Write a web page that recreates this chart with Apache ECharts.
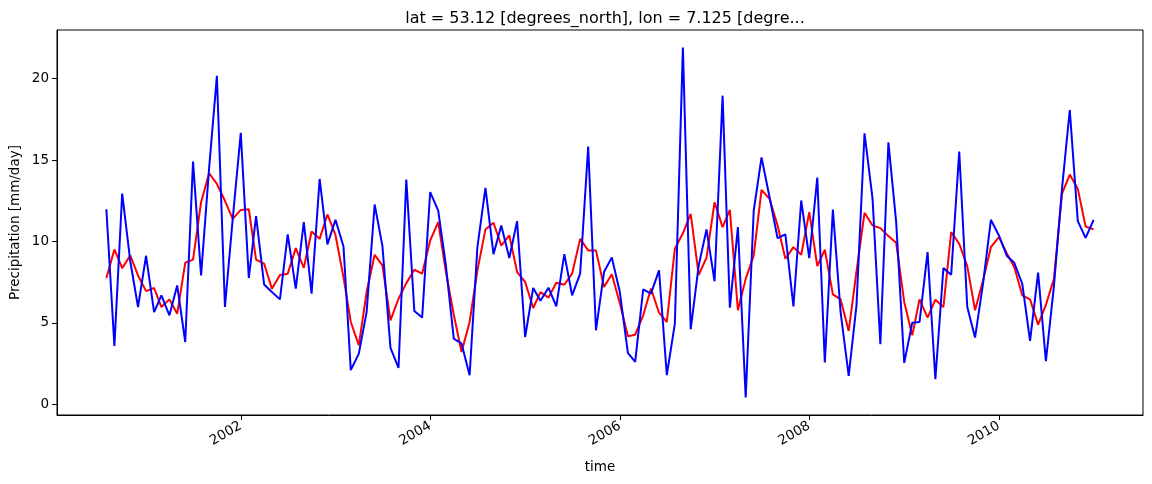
<!DOCTYPE html>
<html>
<head>
<meta charset="utf-8">
<script src="https://cdn.jsdelivr.net/npm/echarts@6/dist/echarts.min.js"></script>
<style>
html,body{margin:0;padding:0;background:#fff;}
#chart{width:1152px;height:484px;}
</style>
</head>
<body>
<div id="chart"></div>
<script>
// Monthly series start (first month) and count
const startYear = 2000, startMonth = 8; // August 2000
const precipitation = [
  11.98, 3.58, 12.94, 8.8, 5.97, 9.12, 5.66, 6.69, 5.46, 7.30,
  3.82, 14.91, 7.91, 14.5, 20.18, 5.97, 11.39, 16.67, 7.75, 11.55,
  7.36, 6.89, 6.44, 10.43, 7.10, 11.19, 6.79, 13.84, 9.82, 11.33,
  9.69, 2.09, 3.11, 5.66, 12.27, 9.71, 3.46, 2.23, 13.80, 5.73,
  5.32, 13.03, 11.90, 8.6, 4.03, 3.72, 1.78, 9.65, 13.29, 9.22,
  10.98, 8.98, 11.25, 4.13, 7.14, 6.36, 7.16, 6.01, 9.22, 6.69,
  8.02, 15.83, 4.54, 8.12, 9.02, 6.89, 3.15, 2.60, 7.06, 6.79,
  8.22, 1.78, 4.95, 21.92, 4.60, 8.53, 10.74, 7.55, 18.96, 5.93,
  10.88, 0.41, 11.90, 15.17, 12.72, 10.20, 10.43, 6.01, 12.52, 8.98,
  13.93, 2.56, 11.96, 5.62, 1.74, 6.07, 16.65, 12.62, 3.68, 16.09,
  11.19, 2.54, 5.01, 5.05, 9.35, 1.53, 8.36, 7.96, 15.52, 5.97,
  4.09, 7.44, 11.33, 10.37, 9.10, 8.69, 7.40, 3.89, 8.08, 2.64,
  7.26, 13.23, 18.08, 11.25, 10.22, 11.33
];
const rollingMean = [
  7.75, 9.51, 8.36, 9.14, 7.91, 6.95, 7.14, 5.97, 6.44, 5.56,
  8.69, 8.88, 12.41, 14.19, 13.54, 12.5, 11.39, 11.94, 11.98, 8.88,
  8.63, 7.10, 7.94, 8.02, 9.59, 8.38, 10.61, 10.16, 11.66, 10.4,
  7.8, 5.05, 3.62, 6.89, 9.18, 8.53, 5.15, 6.48, 7.44, 8.26,
  8.02, 10.06, 11.19, 8.19, 5.5, 3.21, 5.05, 8.22, 10.74, 11.15,
  9.75, 10.37, 8.12, 7.51, 5.91, 6.89, 6.55, 7.46, 7.34, 8.02,
  10.16, 9.45, 9.45, 7.20, 7.98, 6.2, 4.17, 4.27, 5.46, 7.1,
  5.62, 5.05, 9.55, 10.5, 11.70, 7.95, 9.0, 12.41, 10.88, 11.94,
  5.77, 7.7, 9.14, 13.17, 12.62, 10.98, 8.94, 9.65, 9.18, 11.80,
  8.49, 9.49, 6.75, 6.44, 4.50, 8.16, 11.76, 10.98, 10.82, 10.33,
  9.92, 6.28, 4.23, 6.44, 5.32, 6.42, 5.97, 10.57, 9.86, 8.48,
  5.77, 7.61, 9.65, 10.27, 9.25, 8.43, 6.69, 6.44, 4.89, 6.1,
  7.71, 12.92, 14.11, 13.23, 10.92, 10.74
];
const tickYears = [2002, 2004, 2006, 2008, 2010];
const yTicks = [0, 5, 10, 15, 20];
const titleText = 'lat = 53.12 [degrees_north], lon = 7.125 [degre...';

function monthDate(i) {
  const m0 = startMonth - 1 + i;
  return new Date(startYear + Math.floor(m0 / 12), m0 % 12, 1).getTime();
}
const times = precipitation.map((_, i) => monthDate(i));
const blueData = times.map((t, i) => [t, precipitation[i]]);
const redData = times.map((t, i) => [t, rollingMean[i]]);

const t0 = times[0], t1 = times[times.length - 1];
const span = t1 - t0;
const xMin = t0 - 0.05 * span, xMax = t1 + 0.05 * span;
const allV = precipitation.concat(rollingMean);
const vMin = Math.min(...allV), vMax = Math.max(...allV);
const vSpan = vMax - vMin;
const yMin = vMin - 0.05 * vSpan, yMax = vMax + 0.05 * vSpan;

const tickTimes = tickYears.map(y => new Date(y, 0, 1).getTime());
const FONT = 'DejaVu Sans';

const chart = echarts.init(document.getElementById('chart'));
chart.setOption({
  animation: false,
  backgroundColor: '#fff',
  textStyle: { fontFamily: FONT },
  title: {
    text: titleText,
    left: 600, top: 6, textAlign: 'center',
    textStyle: { fontFamily: FONT, fontSize: 16, fontWeight: 'normal', color: '#000' }
  },
  grid: {
    left: 57, right: 9, top: 30, bottom: 69,
    containLabel: false, outerBoundsMode: 'none',
    show: true, borderColor: '#000', borderWidth: 1, backgroundColor: 'transparent'
  },
  xAxis: {
    type: 'value',
    min: xMin, max: xMax,
    name: 'time', nameLocation: 'middle', nameGap: 45, nameMoveOverlap: false,
    nameTextStyle: { fontFamily: FONT, fontSize: 13.5, color: '#000' },
    axisLine: { show: true, onZero: false, lineStyle: { color: '#000', width: 1 } },
    axisTick: { show: true, length: 5, inside: false, customValues: tickTimes, lineStyle: { color: '#000' } },
    axisLabel: {
      customValues: tickTimes, rotate: 30, margin: 10,
      fontFamily: FONT, fontSize: 13.5, color: '#000',
      formatter: v => String(new Date(v).getFullYear())
    },
    splitLine: { show: false }
  },
  yAxis: {
    type: 'value',
    min: yMin, max: yMax,
    name: 'Precipitation [mm/day]', nameLocation: 'middle', nameGap: 35, nameMoveOverlap: false,
    nameTextStyle: { fontFamily: FONT, fontSize: 13.5, color: '#000' },
    axisLine: { show: true, onZero: false, lineStyle: { color: '#000', width: 1 } },
    axisTick: { show: true, length: 5, inside: false, customValues: yTicks, lineStyle: { color: '#000' } },
    axisLabel: { customValues: yTicks, margin: 8, fontFamily: FONT, fontSize: 13.5, color: '#000' },
    splitLine: { show: false }
  },
  series: [
    {
      name: 'rolling mean', type: 'line', data: redData, showSymbol: false,
      lineStyle: { color: '#ff0000', width: 2 }, itemStyle: { color: '#ff0000' }, z: 2
    },
    {
      name: 'precipitation', type: 'line', data: blueData, showSymbol: false,
      lineStyle: { color: '#0000ff', width: 2 }, itemStyle: { color: '#0000ff' }, z: 3
    }
  ]
});
</script>
</body>
</html>
